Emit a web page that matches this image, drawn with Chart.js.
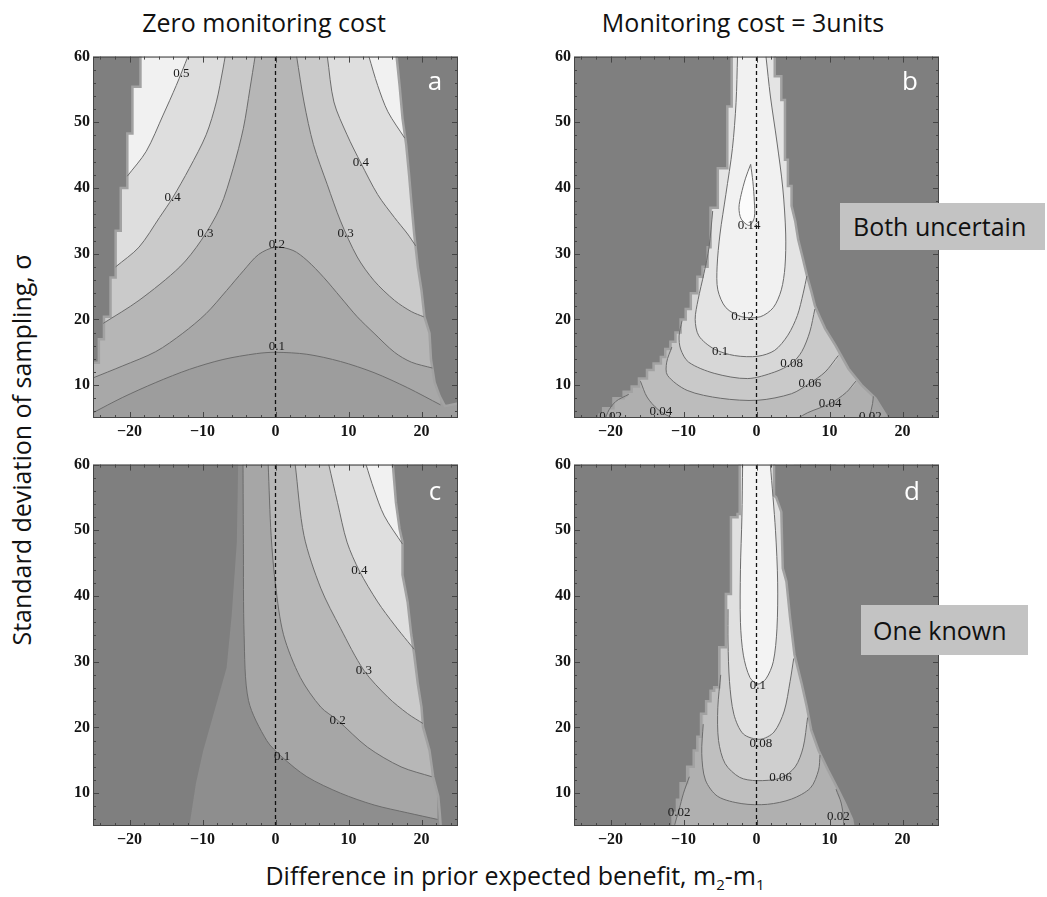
<!DOCTYPE html>
<html lang="en">
<head>
    <meta charset="UTF-8">
    <title>Value of monitoring</title>
    <script src="https://cdn.jsdelivr.net/npm/chart.js"></script>
    <style>
        body { margin: 0; background: #fff; }
        #page { position: relative; width: 1047px; height: 897px; overflow: hidden; font-family: "Open Sans", sans-serif; color: #111; }
        canvas { position: absolute; }
        .txt { position: absolute; white-space: nowrap; line-height: 1; transform: translate(-50%, -50%); }
        .title { font-size: 25px; }
        .letter { color: #fff; font-size: 26px; }
        .tag { position: absolute; background: #c3c3c3; font-size: 25px; line-height: 1; display: flex; align-items: center; box-sizing: border-box; white-space: nowrap; }
        sub { font-size: 15px; vertical-align: -5px; }
    </style>
</head>
<body>
<div id="page">
    <div class="txt title" style="left:264px; top:22px">Zero monitoring cost</div>
    <div class="txt title" style="left:743px; top:22px">Monitoring cost = 3units</div>

    <canvas id="pa" width="415" height="404" style="left:53px; top:44px"></canvas>
    <canvas id="pb" width="415" height="404" style="left:534px; top:44px"></canvas>
    <canvas id="pc" width="415" height="404" style="left:53px; top:452px"></canvas>
    <canvas id="pd" width="415" height="404" style="left:534px; top:452px"></canvas>

    <div class="txt letter" style="left:435px; top:80px">a</div>
    <div class="txt letter" style="left:910px; top:80px">b</div>
    <div class="txt letter" style="left:435px; top:490px">c</div>
    <div class="txt letter" style="left:912px; top:490px">d</div>

    <div class="tag" style="left:840px; top:203px; width:205px; height:47px; padding-left:13px">Both uncertain</div>
    <div class="tag" style="left:861px; top:605px; width:167px; height:50px; padding-left:12px">One known</div>

    <div class="txt title" style="left:21px; top:450px; transform: translate(-50%, -50%) rotate(-90deg)">Standard deviation of sampling, σ</div>
    <div class="txt title" style="left:515px; top:877px">Difference in prior expected benefit, m<sub>2</sub>-m<sub>1</sub></div>
</div>

<script>
    // axes
    const X_MIN = -25, X_MAX = 25, Y_MIN = 5, Y_MAX = 60;
    const xTicks = [-20, -10, 0, 10, 20];
    const yTicks = [10, 20, 30, 40, 50, 60];
    const xMinor = [-24, -22, -18, -16, -14, -12, -8, -6, -4, -2, 2, 4, 6, 8, 12, 14, 16, 18, 22, 24];
    const yMinor = [6, 8, 12, 14, 16, 18, 22, 24, 26, 28, 32, 34, 36, 38, 42, 44, 46, 48, 52, 54, 56, 58];
    const zeroLine = [[0, 5], [0, 60]];

    // panel a: zero cost, both uncertain  (x = m2-m1, y = sigma)
    const a01 = [[-25, 5.8], [-21, 8.1], [-16.4, 10.4], [-11.8, 12.4], [-7.2, 13.9], [-2.6, 14.8], [0, 15.0], [4.3, 14.7], [8.9, 13.6], [13.5, 11.9], [18.1, 9.6], [22.6, 7.0]];
    const a02 = [[-25, 11.1], [-21, 12.9], [-16.4, 15.1], [-12.7, 17.9], [-9.5, 20.9], [-6.7, 24.4], [-4.4, 27.4], [-2.3, 29.9], [0, 31.0], [2.4, 30.5], [4.3, 29.0], [6.6, 26.4], [8.9, 23.4], [11.2, 20.4], [13.5, 17.9], [16.3, 15.0], [18.6, 13.5], [21.5, 12.6]];
    const a03L = [[-23.6, 19.4], [-18.7, 22.9], [-13.1, 28.0], [-10.2, 32.0], [-7.6, 37.0], [-5.8, 43.0], [-4.4, 49.1], [-3.5, 55.1], [-2.8, 60]];
    const a03R = [[2.9, 60], [3.9, 53.1], [5.2, 46.6], [7.1, 40.5], [8.9, 35.0], [11.2, 29.5], [13.5, 25.9], [16.3, 22.9], [18.6, 21.2], [20.3, 20.4]];
    const a04L = [[-21.9, 28.0], [-18.7, 31.0], [-15.9, 35.5], [-14.1, 38.5], [-11.8, 43.0], [-9.5, 48.1], [-8.1, 53.1], [-7.2, 58.1], [-6.9, 60]];
    const a04R = [[7.1, 60], [8.0, 53.1], [9.8, 48.1], [11.7, 43.8], [14.0, 39.0], [16.3, 35.5], [18.1, 33.0], [19.2, 31.2]];
    const a05L = [[-20.3, 41.8], [-17.7, 45.6], [-15.4, 51.1], [-13.6, 55.6], [-12.0, 60]];
    const a05R = [[12.8, 60], [14.0, 55.6], [15.4, 51.6], [17.7, 47.6]];
    const aEdgeL = [[-25, 13.4], [-24.2, 13.4], [-24.2, 17], [-23.5, 17], [-23.5, 20.4], [-22.6, 20.4], [-22.6, 26.4], [-21.9, 26.4], [-21.9, 33.5], [-21.2, 33.5], [-21.2, 40], [-20.3, 40], [-20.3, 48.3], [-19.6, 48.3], [-19.6, 55.4], [-18.5, 55.4], [-18.5, 61]];
    const aEdgeR = [[16.5, 61], [17.0, 55.6], [17.4, 50.6], [17.9, 46.6], [18.3, 42.0], [18.6, 38.0], [19.0, 33.0], [19.5, 28.0], [20.0, 24.4], [20.4, 20.4], [21.1, 17.9], [21.3, 13.9], [21.8, 10.4], [22.5, 8.3], [23.2, 6.8], [25, 7.2]];
    const aLabels = [[-12.9, 57.4, '0.5'], [-14.1, 38.5, '0.4'], [-9.6, 33.0, '0.3'], [0.2, 31.4, '0.2'], [9.6, 33.0, '0.3'], [11.7, 43.8, '0.4'], [0.2, 15.8, '0.1']];

    // panel b: cost 3, both uncertain
    const b014 = [[-0.8, 43.6], [-1.5, 41.5], [-2.1, 39], [-2.4, 37], [-2.1, 35.3], [-1.0, 34.3], [-0.3, 35.5], [-0.3, 38], [-0.5, 41], [-0.8, 43.6]];
    const b012 = [[-2.6, 60], [-2.8, 53], [-3.3, 46], [-4.2, 39], [-5.0, 33], [-5.4, 28], [-5.3, 24.5], [-4.2, 21.8], [-2.0, 20.4], [0.5, 20.4], [2.3, 21.8], [3.4, 24.5], [3.9, 28], [4.0, 33], [3.6, 40], [2.8, 47], [1.9, 54], [1.3, 60]];
    const b010 = [[-6.0, 36.5], [-6.5, 31], [-7.2, 27], [-8.0, 23], [-8.4, 20], [-7.9, 17.5], [-5.8, 15.5], [-3.0, 14.5], [0.2, 14.4], [2.5, 15.3], [4.3, 17.6], [5.6, 20.6], [6.4, 24], [6.9, 26.6]];
    const b008 = [[-10.2, 19.8], [-10.6, 17.5], [-10.4, 15.5], [-9.3, 13.5], [-5.8, 11.8], [-1.2, 11.0], [2.5, 12.0], [4.8, 13.3], [6.2, 15.1], [7.3, 18.1], [8.0, 21.6]];
    const b006 = [[-11.6, 15.8], [-12.3, 13.5], [-12.2, 11.5], [-9.5, 9.2], [-4.9, 8.0], [0.2, 7.7], [4.8, 8.7], [7.3, 10.3], [9.4, 12.0], [11.2, 14.5]];
    const b004 = [[-15.9, 10.6], [-15.0, 8.2], [-13.5, 6.3], [-11.5, 5.0], [-8, 3.8], [0, 3.0], [4, 4.0], [7, 5.8], [10.1, 7.2], [12.3, 8.9], [13.6, 10.6]];
    const b002 = [[-17.5, 8.6], [-19.3, 7.5], [-20.4, 5.8], [-20.6, 4.0], [0, 1.0], [14.8, 3.0], [15.5, 5.3], [15.9, 7.2], [16.0, 8.3]];
    const bEdgeL = [[-25, 4], [-21.5, 4], [-21.5, 5.5], [-21.0, 5.5], [-21.0, 6.5], [-19.6, 6.5], [-19.6, 8.0], [-18.2, 8.0], [-18.2, 9.0], [-17.1, 9.0], [-17.1, 9.8], [-16.1, 9.8], [-16.1, 11.0], [-15.0, 11.0], [-15.0, 12.3], [-14.1, 12.3], [-14.1, 13.3], [-13.1, 13.3], [-13.1, 14.3], [-12.5, 14.3], [-12.5, 15.5], [-11.8, 15.5], [-11.8, 16.6], [-11.1, 16.6], [-11.1, 18.0], [-10.4, 18.0], [-10.4, 20.0], [-9.7, 20.0], [-9.7, 21.6], [-9.0, 21.6], [-9.0, 24.0], [-8.1, 24.0], [-8.1, 26.5], [-7.4, 26.5], [-7.4, 28.0], [-6.7, 28.0], [-6.7, 31.0], [-6.3, 31.0], [-6.3, 37.0], [-5.3, 37.0], [-5.3, 43.0], [-4.0, 43.0], [-4.0, 52.4], [-3.4, 52.4], [-3.4, 61]];
    const bEdgeR = [[2.5, 61], [2.5, 57.0], [3.4, 57.0], [3.4, 53.4], [3.9, 53.4], [3.9, 44.3], [4.3, 44.3], [4.3, 40.3], [4.8, 40.3], [4.8, 37.3], [5.3, 35.0], [5.7, 32.2], [6.3, 29.5], [6.9, 26.7], [7.5, 24.3], [8.0, 22.1], [8.7, 20.3], [9.4, 18.6], [10.8, 16.1], [12.6, 12.5], [14.4, 10.0], [16.3, 8.0], [17.7, 5.5], [18.2, 4], [25, 4]];
    const bLabels = [[-1.0, 34.3, '0.14'], [-1.9, 20.4, '0.12'], [-5.0, 15.1, '0.1'], [4.8, 13.3, '0.08'], [7.3, 10.3, '0.06'], [10.1, 7.2, '0.04'], [-13.1, 6.0, '0.04'], [-20.0, 5.2, '0.02'], [15.6, 5.2, '0.02']];

    // panel c: zero cost, one known
    const c01 = [[-4.45, 60], [-4.4, 48], [-4.3, 34], [-3.7, 24.1], [-1.2, 18.0], [0.9, 15.5], [4.3, 12.5], [8.9, 10.0], [13.5, 8.2], [18.1, 7.0], [22.2, 6.0]];
    const c02 = [[-1.0, 60], [-0.6, 49.2], [0, 41.7], [1.1, 34.1], [3.4, 27.6], [6.2, 23.1], [8.5, 21.1], [12.6, 17.0], [17.2, 14.0], [21.4, 12.5]];
    const c03 = [[2.7, 60], [3.9, 49.2], [6.2, 41.2], [8.9, 35.1], [12.1, 28.7], [15.4, 24.6], [18.1, 22.1], [20.2, 20.6]];
    const c04 = [[7.3, 60], [8.5, 54.2], [9.8, 48.2], [11.5, 43.8], [14.0, 39.1], [16.3, 35.6], [18.1, 33.1], [19.0, 31.9]];
    const c05 = [[12.4, 60], [13.5, 56.2], [14.9, 52.2], [17.4, 47.9]];
    const cEdgeL = [[-25, 4], [-11.8, 4], [-11.8, 5], [-10.9, 11.5], [-9.9, 16.5], [-8.6, 21.6], [-6.7, 29.1], [-6.0, 37.1], [-5.3, 48.2], [-5.1, 61]];
    const cEdgeR = [[16.0, 61], [16.5, 54.2], [17.0, 50.2], [17.4, 48.2], [17.4, 43.2], [18.1, 39.1], [18.6, 34.1], [19.0, 31.1], [19.5, 26.6], [20.0, 23.1], [20.2, 20.1], [21.1, 16.5], [21.6, 12.5], [22.3, 9.5], [22.5, 7.0], [22.7, 4], [25, 4]];
    const cLabels = [[0.9, 15.5, '0.1'], [8.5, 21.1, '0.2'], [12.1, 28.7, '0.3'], [11.5, 43.8, '0.4']];

    // panel d: cost 3, one known
    const d010 = [[-1.9, 60], [-2.0, 52], [-2.2, 44], [-2.2, 36], [-1.8, 31], [-0.9, 27.6], [0.2, 26.6], [1.3, 27.4], [2.3, 30], [2.8, 35], [2.9, 42], [2.6, 50], [1.9, 60]];
    const d008 = [[-3.9, 38], [-3.9, 33], [-3.7, 27], [-3.1, 22], [-1.8, 19.0], [0.5, 18.2], [2.4, 19.3], [3.8, 22.5], [4.6, 27], [5.1, 30.5]];
    const d006 = [[-4.9, 28], [-5.3, 23], [-5.2, 18], [-4.3, 14.5], [-2.3, 12.4], [0, 11.9], [3.3, 12.3], [5.3, 14], [6.4, 17], [7.0, 21.5]];
    const d004 = [[-7.3, 20.5], [-7.5, 16], [-7.0, 12], [-5.3, 9.5], [-2, 8.4], [1.5, 8.3], [4.8, 9.1], [7.4, 10.8], [8.5, 13.5], [8.7, 15.8]];
    const d002 = [[-9.2, 12.5], [-10.0, 10], [-10.6, 7.5], [-11.2, 5.2], [-11.4, 3.5], [0, 1.5], [11.6, 3.5], [11.9, 6], [11.6, 8.5], [10.9, 10.6]];
    const dEdgeL = [[-25, 4], [-11.5, 4], [-11.5, 7.0], [-10.9, 7.0], [-10.9, 9.0], [-10.4, 9.0], [-10.4, 11.5], [-9.5, 11.5], [-9.5, 14.0], [-8.6, 14.0], [-8.6, 16.5], [-8.1, 16.5], [-8.1, 18.6], [-7.6, 18.6], [-7.6, 22.1], [-6.9, 22.1], [-6.9, 24.0], [-6.3, 24.0], [-6.3, 25.6], [-5.8, 25.6], [-5.8, 26.1], [-5.1, 26.1], [-5.1, 32.2], [-4.2, 32.2], [-4.2, 40.3], [-3.5, 40.3], [-3.5, 52.0], [-2.6, 52.0], [-2.6, 52.5], [-2.3, 52.5], [-2.3, 61]];
    const dEdgeR = [[2.4, 61], [2.4, 55.3], [2.7, 55.0], [3.4, 52.8], [3.6, 44.2], [4.1, 42.2], [4.6, 36.7], [5.2, 31.1], [6.2, 26.6], [6.9, 23.1], [7.5, 19.6], [8.5, 16.5], [9.8, 13.5], [11.2, 10.5], [12.1, 8.5], [13.1, 6.0], [13.4, 4], [25, 4]];
    const dLabels = [[0.2, 26.4, '0.1'], [0.6, 17.6, '0.08'], [3.3, 12.3, '0.06'], [-10.6, 7.0, '0.02'], [11.2, 6.5, '0.02']];

    const DARK = '#7f7f7f';
    const RIM = '#a2a2a2';
    const LINE = '#6c6c6c';

    Chart.defaults.font.family = '"Liberation Serif", "DejaVu Serif", serif';
    Chart.defaults.font.size = 16;
    Chart.defaults.color = '#151515';

    const pts = a => a.map(([x, y]) => ({x, y}));
    // close a contour through the masked area above it
    const toTop = a => [[a[0][0], Y_MAX + 1], ...a, [a[a.length - 1][0], Y_MAX + 1]];

    const panelDeco = {
        id: 'panelDeco',
        beforeDatasetsDraw(chart, args, opts) {
            const {ctx, chartArea: a} = chart;
            ctx.save();
            ctx.fillStyle = opts.base;
            ctx.fillRect(a.left, a.top, a.width, a.height);
            ctx.restore();
        },
        afterDatasetsDraw(chart, args, opts) {
            const {ctx, chartArea: a, scales: {x, y}} = chart;
            ctx.save();
            ctx.beginPath();
            ctx.rect(a.left, a.top, a.width, a.height);
            ctx.clip();
            ctx.font = '13px "Liberation Serif"';
            ctx.fillStyle = '#1a1a1a';
            ctx.textAlign = 'center';
            ctx.textBaseline = 'middle';
            opts.labels.forEach(([vx, vy, t]) => ctx.fillText(t, x.getPixelForValue(vx), y.getPixelForValue(vy)));
            ctx.restore();

            ctx.save();
            ctx.strokeStyle = '#454545';
            ctx.lineWidth = 1;
            ctx.strokeRect(a.left + 0.5, a.top + 0.5, a.width - 1, a.height - 1);
            ctx.beginPath();
            const xt = (vals, len) => vals.forEach(v => {
                const p = Math.round(x.getPixelForValue(v)) + 0.5;
                ctx.moveTo(p, a.top); ctx.lineTo(p, a.top + len);
                ctx.moveTo(p, a.bottom); ctx.lineTo(p, a.bottom - len);
            });
            const yt = (vals, len) => vals.forEach(v => {
                const p = Math.round(y.getPixelForValue(v)) + 0.5;
                ctx.moveTo(a.left, p); ctx.lineTo(a.left + len, p);
                ctx.moveTo(a.right, p); ctx.lineTo(a.right - len, p);
            });
            xt(xTicks, 6); xt(xMinor, 3);
            yt(yTicks, 6); yt(yMinor, 3);
            ctx.stroke();
            ctx.restore();
        }
    };

    const tickFont = {family: '"Liberation Serif", "DejaVu Serif", serif', size: 16, weight: 'bold'};

    function panel(id, cfg) {
        const ds = [];
        cfg.bands.forEach(([data, mode, color], i) => ds.push({
            data: pts(mode === 'top' ? toTop(data) : data),
            fill: mode === 'top' ? 'shape' : mode,
            backgroundColor: color, borderWidth: 0, pointRadius: 0, tension: 0.3, order: 100 - i
        }));
        cfg.masks.forEach(([data, rim]) => ds.push({
            data: pts(data), fill: 'end', backgroundColor: DARK,
            borderColor: rim || 'rgba(0,0,0,0)', borderWidth: rim ? 2.5 : 0,
            pointRadius: 0, tension: 0, order: 50
        }));
        cfg.lines.forEach(data => ds.push({
            data: pts(data), fill: false, borderColor: LINE, borderWidth: 1,
            pointRadius: 0, tension: 0.3, order: 10
        }));
        ds.push({
            data: pts(zeroLine), fill: false, borderColor: '#111', borderWidth: 1.3,
            borderDash: [4, 3], pointRadius: 0, order: 0
        });

        new Chart(document.getElementById(id), {
            type: 'line',
            data: {datasets: ds},
            options: {
                responsive: false,
                animation: false,
                events: [],
                layout: {padding: {top: 10, right: 10, left: 0, bottom: 0}},
                plugins: {
                    legend: {display: false},
                    tooltip: {enabled: false},
                    panelDeco: {base: cfg.base, labels: cfg.labels}
                },
                scales: {
                    x: {
                        type: 'linear', min: X_MIN, max: X_MAX,
                        grid: {display: false, drawTicks: false},
                        border: {display: false},
                        ticks: {
                            padding: 4, color: '#151515', font: tickFont, autoSkip: false, maxRotation: 0,
                            callback: v => v < 0 ? '\u2212' + (-v) : String(v)
                        },
                        afterBuildTicks: s => { s.ticks = xTicks.map(v => ({value: v})); },
                        afterFit: s => { s.height = 30; }
                    },
                    y: {
                        type: 'linear', min: Y_MIN, max: Y_MAX,
                        grid: {display: false, drawTicks: false},
                        border: {display: false},
                        ticks: {padding: 3, color: '#151515', font: tickFont, autoSkip: false},
                        afterBuildTicks: s => { s.ticks = yTicks.map(v => ({value: v})); },
                        afterFit: s => { s.width = 40; }
                    }
                }
            },
            plugins: [panelDeco]
        });
    }

    panel('pa', {
        base: '#9d9d9d',
        bands: [[a01, 'end', '#a8a8a8'], [a02, 'end', '#b6b6b6'], [a03L, 'end', '#cacaca'], [a03R, 'end', '#cacaca'],
                [a04L, 'end', '#dedede'], [a04R, 'end', '#dedede'], [a05L, 'end', '#f1f1f1'], [a05R, 'end', '#f1f1f1']],
        masks: [[aEdgeL, RIM], [aEdgeR, RIM]],
        lines: [a01, a02, a03L, a03R, a04L, a04R, a05L, a05R],
        labels: aLabels
    });

    panel('pb', {
        base: '#a4a4a4',
        bands: [[b002, 'top', '#afafaf'], [b004, 'top', '#bcbcbc'], [b006, 'top', '#c9c9c9'], [b008, 'top', '#d7d7d7'],
                [b010, 'top', '#e4e4e4'], [b012, 'shape', '#f1f1f1'], [b014, 'shape', '#fbfbfb']],
        masks: [[bEdgeL, RIM], [bEdgeR, RIM]],
        lines: [b002, b004, b006, b008, b010, b012, b014],
        labels: bLabels
    });

    panel('pc', {
        base: '#8e8e8e',
        bands: [[c01, 'end', '#a6a6a6'], [c02, 'end', '#b7b7b7'], [c03, 'end', '#cbcbcb'], [c04, 'end', '#dfdfdf'], [c05, 'end', '#f1f1f1']],
        masks: [[cEdgeL, null], [cEdgeR, RIM]],
        lines: [c01, c02, c03, c04, c05],
        labels: cLabels
    });

    panel('pd', {
        base: '#a4a4a4',
        bands: [[d002, 'top', '#b0b0b0'], [d004, 'top', '#bfbfbf'], [d006, 'top', '#cfcfcf'], [d008, 'top', '#e0e0e0'], [d010, 'shape', '#f3f3f3']],
        masks: [[dEdgeL, RIM], [dEdgeR, RIM]],
        lines: [d002, d004, d006, d008, d010],
        labels: dLabels
    });
</script>
</body>
</html>
